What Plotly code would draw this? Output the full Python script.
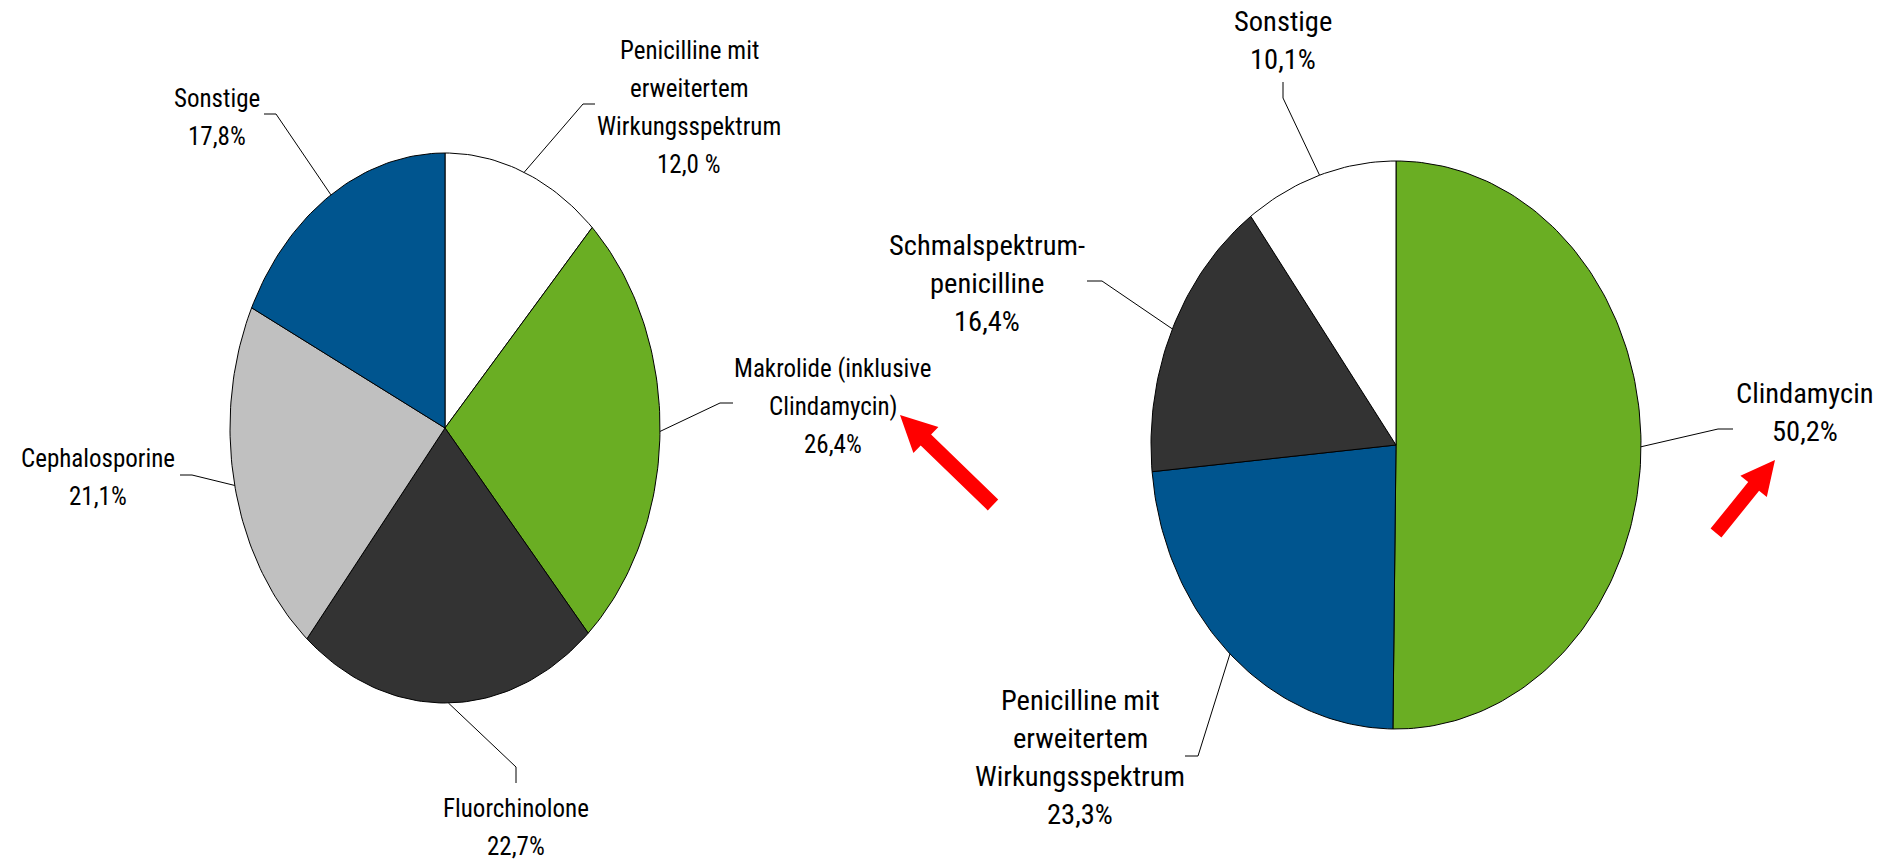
import math
import plotly.graph_objects as go

# ---------------- data ----------------
left_names = ["Penicilline mit<br>erweitertem<br>Wirkungsspektrum",
              "Makrolide (inklusive<br>Clindamycin)",
              "Fluorchinolone", "Cephalosporine", "Sonstige"]
left_values = [12.0, 26.4, 22.7, 21.1, 17.8]
left_pct = ["12,0 %", "26,4%", "22,7%", "21,1%", "17,8%"]
left_colors = ["#FFFFFF", "#6AAE23", "#333333", "#C0C0C0", "#00558F"]

right_names = ["Clindamycin", "Penicilline mit<br>erweitertem<br>Wirkungsspektrum",
               "Schmalspektrum-<br>penicilline", "Sonstige"]
right_values = [50.2, 23.3, 16.4, 10.1]
right_pct = ["50,2%", "23,3%", "16,4%", "10,1%"]
right_colors = ["#6AAE23", "#00558F", "#333333", "#FFFFFF"]

# ---------------- layout helpers (pixel space) ----------------
W, H = 1888, 862
FONT = "Liberation Sans Narrow, Arial Narrow, Roboto Condensed, Liberation Sans, sans-serif"
LINE_H = 38

pies = [
    dict(names=left_names, values=left_values, pct=left_pct, colors=left_colors,
         cx=445, cy=428, rx=215, ry=275, fs=25,
         # (text centre x, first line centre y, elbow point, stub end)
         lab=[(689, 50, (583, 104), (595, 104)),
              (833, 368, (720, 403), (733, 403)),
              (516, 808, (516, 767), (516, 783)),
              (98, 458, (192, 475), (180, 475)),
              (217, 98, (276, 114), (264, 114))]),
    dict(names=right_names, values=right_values, pct=right_pct, colors=right_colors,
         cx=1396, cy=445, rx=245, ry=284, fs=28.5,
         lab=[(1805, 393, (1718, 429), (1733, 429)),
              (1080, 700, (1198, 756), (1185, 756)),
              (987, 245, (1102, 281), (1087, 281)),
              (1283, 21, (1283, 98), (1283, 82))]),
]

fig = go.Figure()
annotations = []

for p in pies:
    total = sum(p["values"])
    start = 0.0
    for i, v in enumerate(p["values"]):
        a0 = start / total * 2 * math.pi
        a1 = (start + v) / total * 2 * math.pi
        n = max(4, int(v * 3))
        ts = [a0 + (a1 - a0) * k / n for k in range(n + 1)]
        xs = [p["cx"]] + [p["cx"] + p["rx"] * math.sin(t) for t in ts] + [p["cx"]]
        ys = [p["cy"]] + [p["cy"] - p["ry"] * math.cos(t) for t in ts] + [p["cy"]]
        fig.add_trace(go.Scatter(x=xs, y=ys, mode="lines", fill="toself",
                                 fillcolor=p["colors"][i],
                                 line=dict(color="black", width=1),
                                 hoverinfo="skip", showlegend=False))
        # leader line from slice middle
        am = (start + v / 2) / total * 2 * math.pi
        px = p["cx"] + p["rx"] * math.sin(am)
        py = p["cy"] - p["ry"] * math.cos(am)
        tx, ty, elbow, stub = p["lab"][i]
        fig.add_trace(go.Scatter(x=[px, elbow[0], stub[0]], y=[py, elbow[1], stub[1]],
                                 mode="lines", line=dict(color="black", width=1),
                                 hoverinfo="skip", showlegend=False))
        lines = p["names"][i].split("<br>") + [p["pct"][i]]
        for j, ln in enumerate(lines):
            annotations.append(dict(x=tx, y=ty + j * LINE_H, text=ln, showarrow=False,
                                    xanchor="center", yanchor="middle",
                                    font=dict(family=FONT, size=p["fs"], color="black")))
        start += v


def arrow_path(tail, tip, shaft_w, head_w, head_len):
    dx, dy = tip[0] - tail[0], tip[1] - tail[1]
    L = math.hypot(dx, dy)
    ux, uy = dx / L, dy / L
    nx, ny = -uy, ux
    bx, by = tip[0] - ux * head_len, tip[1] - uy * head_len
    pts = [
        (tail[0] + nx * shaft_w / 2, tail[1] + ny * shaft_w / 2),
        (bx + nx * shaft_w / 2, by + ny * shaft_w / 2),
        (bx + nx * head_w / 2, by + ny * head_w / 2),
        tip,
        (bx - nx * head_w / 2, by - ny * head_w / 2),
        (bx - nx * shaft_w / 2, by - ny * shaft_w / 2),
        (tail[0] - nx * shaft_w / 2, tail[1] - ny * shaft_w / 2),
    ]
    return "M " + " L ".join(f"{x:.1f},{y:.1f}" for x, y in pts) + " Z"


shapes = [
    dict(type="path", xref="x", yref="y",
         path=arrow_path((993, 505), (900, 415), 15, 36, 36),
         fillcolor="#FF0000", line=dict(width=0)),
    dict(type="path", xref="x", yref="y",
         path=arrow_path((1716, 533), (1775, 460), 14, 34, 34),
         fillcolor="#FF0000", line=dict(width=0)),
]

fig.update_layout(
    width=W, height=H, margin=dict(l=0, r=0, t=0, b=0),
    paper_bgcolor="white", plot_bgcolor="white", showlegend=False,
    xaxis=dict(range=[0, W], visible=False, fixedrange=True),
    yaxis=dict(range=[H, 0], visible=False, fixedrange=True),
    annotations=annotations, shapes=shapes,
)

fig.write_html("out.html",
               config={"displayModeBar": False},
               post_script="document.body.style.margin='0';document.body.style.overflow='hidden';")
